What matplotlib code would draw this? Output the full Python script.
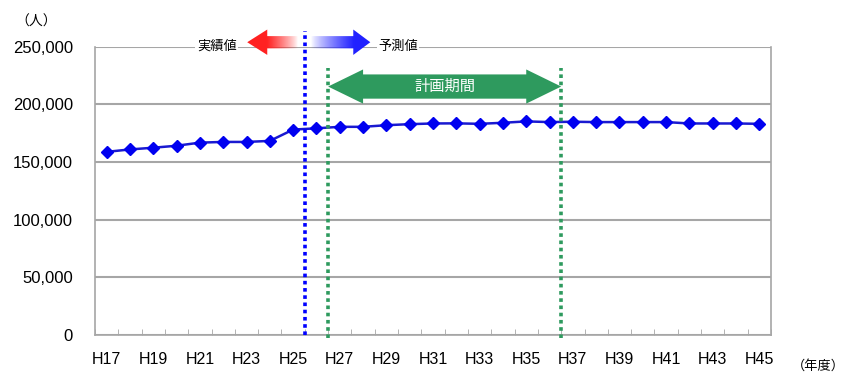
import numpy as np
import matplotlib.pyplot as plt
from matplotlib.patches import Polygon

plt.rcParams['font.family'] = ['Liberation Sans', 'DejaVu Sans']
JP = ['Noto Sans CJK JP', 'DejaVu Sans']

years = ['H%d' % n for n in range(17, 46)]
population = [158700, 160800, 162300, 164000, 166700, 167300, 167300, 168200,
              178000, 179100, 180400, 180400, 181800, 182700, 183300, 183400,
              183000, 183900, 185100, 184500, 184800, 184500, 184500, 184500,
              184500, 183300, 183300, 183300, 183000]
last_actual = 'H25'
plan_start, plan_end = 'H27', 'H36'

x = np.arange(len(years))
i_act = years.index(last_actual) + 0.5
i_p0 = years.index(plan_start) - 0.5
i_p1 = years.index(plan_end) + 0.5

fig = plt.figure(figsize=(8.49, 3.74), dpi=100)
ax = fig.add_axes([95 / 849, 1 - 335 / 374, 676 / 849, 288.5 / 374])

grid_c = '#a6a6a6'
ax.set_axisbelow(True)
ax.grid(axis='y', color=grid_c, linewidth=1.5)
for s in ['left', 'right', 'bottom']:
    ax.spines[s].set_color(grid_c)
    ax.spines[s].set_linewidth(1.2)
ax.spines['top'].set_visible(False)

ax.plot(x, population, color='#1a1ad0', linewidth=1.8, marker='D', markersize=6,
        markerfacecolor='#0000f0', markeredgecolor='#0000f0', zorder=4)

# boundary lines
ymax = 250000
ax.plot([i_act, i_act], [0, ymax * 1.052], color='#0000ff', linestyle=(0, (1, 1)),
        linewidth=2.6, clip_on=False, zorder=5)
for xi in (i_p0, i_p1):
    ax.plot([xi, xi], [-2500, ymax * 0.926], color='#2e9a5e', linestyle=(0, (1, 1)),
            linewidth=2.6, clip_on=False, zorder=5)

# plan period arrow
yc, bh, hh, hl = 215300, 10500, 14800, 1.5
verts = [(i_p0, yc), (i_p0 + hl, yc + hh), (i_p0 + hl, yc + bh), (i_p1 - hl, yc + bh),
         (i_p1 - hl, yc + hh), (i_p1, yc), (i_p1 - hl, yc - hh), (i_p1 - hl, yc - bh),
         (i_p0 + hl, yc - bh), (i_p0 + hl, yc - hh)]
ax.add_patch(Polygon(verts, closed=True, facecolor='#2e9a5e', edgecolor='none', zorder=6))
ax.text((i_p0 + i_p1) / 2, yc, '計画期間', color='white', fontsize=11, family=JP,
        ha='center', va='center', zorder=7)


def grad_arrow(x_tail, x_tip, y, body, head, head_len, rgb):
    d = 1 if x_tip > x_tail else -1
    back = x_tip - d * head_len
    pts = [(x_tail, y + body), (back, y + body), (back, y + head), (x_tip, y),
           (back, y - head), (back, y - body), (x_tail, y - body)]
    poly = Polygon(pts, closed=True, facecolor='none', edgecolor='none')
    ax.add_patch(poly)
    xs = np.linspace(min(x_tail, x_tip), max(x_tail, x_tip), 200)
    a = np.clip((xs - x_tail) / (back - x_tail), 0, 1) ** 0.8
    arr = np.zeros((1, len(xs), 4))
    arr[..., 0], arr[..., 1], arr[..., 2] = rgb
    arr[..., 3] = a
    im = ax.imshow(arr, extent=[xs[0], xs[-1], y - head, y + head], aspect='auto',
                   interpolation='bilinear', zorder=6)
    im.set_clip_path(poly)
    im.set_clip_box(fig.bbox)


ya = 253700
grad_arrow(i_act - 0.3, 6.03, ya, 5300, 11000, 0.86, (1.0, 0.13, 0.13))
grad_arrow(i_act + 0.25, 11.31, ya, 5300, 11000, 0.73, (0.13, 0.13, 1.0))
lab = dict(fontsize=9.5, family=JP, ha='center', va='center', zorder=7,
           bbox=dict(facecolor='white', edgecolor='none', pad=1))
ax.text(4.72, ymax, '実績値', **lab)
ax.text(12.5, ymax, '予測値', **lab)

ax.set_xlim(-0.5, len(years) - 0.5)
ax.set_ylim(0, ymax)
ax.set_yticks(np.arange(0, ymax + 1, 50000))
ax.set_yticklabels(['{:,}'.format(v) for v in range(0, ymax + 1, 50000)])
ax.set_xticks(x[::2])
ax.set_xticklabels(years[::2])
ax.set_xticks(np.arange(-0.5, len(years), 1), minor=True)
ax.tick_params(axis='x', which='major', length=0, pad=12, labelsize=11.5)
ax.tick_params(axis='x', which='minor', direction='in', length=4, color=grid_c)
ax.tick_params(axis='y', length=0, pad=16, labelsize=12)

fig.text(15 / 849, 1 - 22 / 374, '（人）', family=JP, fontsize=10, va='center')
fig.text(845 / 849, 1 - 366 / 374, '（年度）', family=JP, fontsize=9.5,
         ha='right', va='center')

fig.savefig('out.png', dpi=100)
